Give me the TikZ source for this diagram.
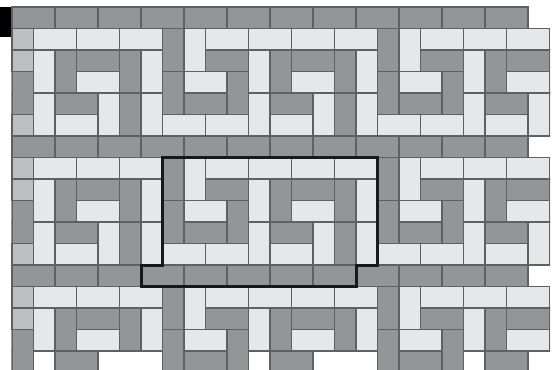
\documentclass[tikz,border=0pt]{standalone}
\usepackage{tikz}
\definecolor{slate}{RGB}{147,149,152}
\definecolor{mist}{RGB}{230,231,232}
\definecolor{pale}{RGB}{189,191,194}
\definecolor{joint}{RGB}{95,96,98}
\tikzset{
  brick/.style={fill=#1,draw=joint,line width=0.8pt},
  brick/.default=slate,
  frame/.style={draw=black!90,line width=2pt,line join=miter},
}
% one period of the band: column/row/width/height/colour
\def\upperbricks{0/0/1/2/slate,0/2/1/2/slate,1/0/1/2/mist,1/2/2/1/mist,
  1/3/2/1/slate,2/0/2/1/mist,2/1/2/1/slate,3/2/1/2/slate,4/0/2/1/mist,
  4/1/1/2/mist,5/1/1/2/slate,5/3/2/1/slate,6/0/2/1/mist,6/1/2/1/slate,
  6/2/2/1/mist,8/0/2/1/mist,8/1/1/2/slate,9/1/1/2/mist}
\def\lowerbricks{0/4/2/1/mist,2/4/2/1/mist,4/3/1/2/mist,5/4/2/1/mist,
  7/3/1/2/mist,8/3/1/2/slate,9/3/1/2/mist}

\begin{document}
\begin{tikzpicture}[x=0.5cm,y=0.5cm]
  \useasboundingbox (-0.56,0.33) rectangle (25.3,-16.84);
  \clip (-0.56,0.33) rectangle (25.3,-16.84);
  \fill[black] (-0.56,0) rectangle (0,-1.4);
  % rows of running bond
  \foreach \t in {0,6,12}
    \foreach \i in {0,2,...,22}
      \draw[brick] (\i,-\t) rectangle ++(2,-1);
  % bands of the pattern
  \foreach \t in {1,7,13} {
    \begin{scope}
      \clip (-0.02,-\t+0.03) rectangle (25.03,-\t-5.03);
      \foreach \p in {-3,7,17} {
        \foreach \i/\j/\w/\h/\f in \upperbricks
          \draw[brick=\f] (\p+\i,-\t-\j) rectangle ++(\w,-\h);
        \ifnum\t<13
          \foreach \i/\j/\w/\h/\f in \lowerbricks
            \draw[brick=\f] (\p+\i,-\t-\j) rectangle ++(\w,-\h);
        \fi
      }
    \end{scope}
    \foreach \j in {0,1,4}
      \draw[brick=pale] (0,-\t-\j) rectangle ++(1,-1);
  }
  % repeating unit
  \draw[frame] (7,-7) -- (17,-7) -- (17,-12) -- (16,-12) -- (16,-13)
    -- (6,-13) -- (6,-12) -- (7,-12) -- cycle;
\end{tikzpicture}
\end{document}
